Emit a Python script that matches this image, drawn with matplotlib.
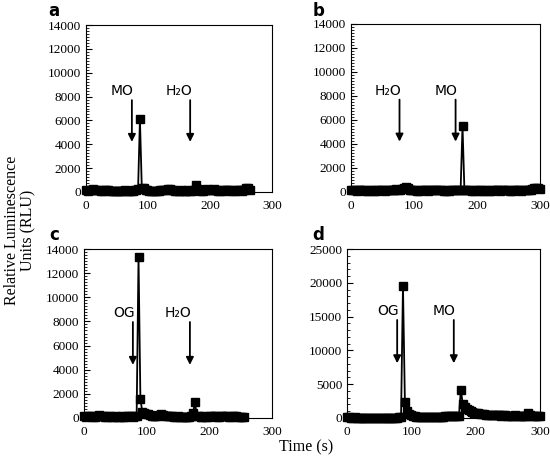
import numpy as np
import matplotlib
matplotlib.use("Agg")
import matplotlib.pyplot as plt
from matplotlib.ticker import MultipleLocator

# sampling times (s)
t_a = np.arange(0, 265, 3)
t_b = np.arange(0, 301, 3)
t_c = np.arange(0, 256, 3)
t_d = np.arange(0, 301, 3)

# luminescence (RLU)
rlu_a = [150, 120, 200, 180, 250, 200, 150, 180, 120, 100,
         150, 130, 160, 100, 120, 90, 110, 80, 100, 120,
         90, 140, 110, 80, 120, 100, 150, 200, 250, 6100,
         350, 300, 200, 150, 120, 100, 90, 110, 80, 100,
         130, 150, 200, 180, 220, 250, 180, 150, 120, 100,
         90, 130, 100, 80, 120, 150, 100, 120, 200, 600,
         250, 150, 120, 100, 200, 250, 180, 150, 200, 250,
         150, 120, 100, 150, 180, 100, 130, 200, 150, 100,
         120, 180, 150, 200, 120, 150, 350, 300, 200]
rlu_b = [200, 150, 180, 120, 150, 200, 180, 150, 120, 100,
         130, 150, 120, 100, 150, 200, 180, 150, 120, 150,
         200, 180, 150, 200, 250, 180, 200, 220, 350, 400,
         300, 200, 150, 180, 150, 120, 100, 150, 200, 180,
         150, 120, 150, 200, 180, 150, 200, 180, 150, 120,
         100, 150, 120, 150, 180, 200, 150, 180, 200, 5500,
         200, 150, 180, 150, 120, 100, 150, 180, 150, 120,
         100, 130, 150, 120, 100, 150, 180, 200, 150, 120,
         150, 200, 180, 150, 120, 100, 150, 200, 180, 150,
         120, 150, 180, 200, 150, 180, 250, 300, 350, 300,
         250]
rlu_c = [150, 120, 200, 180, 150, 100, 120, 200, 250, 200,
         150, 120, 100, 150, 130, 100, 120, 150, 100, 120,
         150, 120, 100, 150, 200, 150, 120, 150, 200, 13300,
         1600, 500, 450, 350, 300, 250, 200, 180, 150, 200,
         250, 300, 250, 200, 150, 180, 200, 150, 120, 100,
         150, 120, 100, 80, 120, 100, 80, 150, 400, 1300,
         200, 150, 120, 100, 150, 120, 100, 150, 200, 180,
         150, 120, 100, 150, 200, 180, 150, 120, 100, 150,
         180, 150, 120, 100, 80, 60]
rlu_d = [100, 80, 60, 50, 80, 60, 50, 40, 60, 50,
         40, 50, 60, 50, 40, 50, 60, 50, 40, 50,
         60, 50, 40, 50, 60, 50, 60, 80, 100, 19600,
         2400, 1000, 600, 400, 300, 250, 200, 180, 150, 120,
         100, 120, 150, 100, 120, 100, 150, 120, 100, 150,
         200, 250, 300, 350, 300, 250, 300, 250, 300, 4200,
         2000, 1700, 1400, 1200, 1000, 900, 800, 750, 700, 650,
         600, 550, 500, 480, 450, 420, 400, 450, 400, 380,
         350, 380, 400, 350, 320, 300, 350, 400, 320, 300,
         280, 300, 350, 300, 700, 400, 300, 280, 300, 350,
         300]

# injection labels and arrow x positions
labels_a = ["MO", "H\u2082O"]
labels_b = ["H\u2082O", "MO"]
labels_c = ["OG", "H\u2082O"]
labels_d = ["OG", "MO"]
arrow_x_a = [74, 168]
arrow_x_b = [77, 166]
arrow_x_c = [78, 169]
arrow_x_d = [78, 166]

W, H = 550, 463
fig = plt.figure(figsize=(W / 100, H / 100), dpi=100)

serif = "Liberation Serif"
sans = "DejaVu Sans"


def px_axes(l, t, r, b):
    return fig.add_axes([l / W, 1 - b / H, (r - l) / W, (b - t) / H])


panels = [
    # box, t, y, ymax, major, minor, labels, arrows, arrow top, arrow tip, letter
    ((86, 25, 272, 192), t_a, rlu_a, 14000, 2000, 250, labels_a, arrow_x_a, 7700, 4200, "a", (54, 11)),
    ((351, 24, 540, 192), t_b, rlu_b, 14000, 2000, 250, labels_b, arrow_x_b, 7700, 4200, "b", (319, 11)),
    ((84, 249, 272, 418), t_c, rlu_c, 14000, 2000, 250, labels_c, arrow_x_c, 7950, 4400, "c", (54, 235)),
    ((347, 249, 540, 418), t_d, rlu_d, 25000, 5000, 1000, labels_d, arrow_x_d, 14500, 8100, "d", (318, 235)),
]

for box, t, y, ymax, major, minor, labs, axs, top, tip, letter, lpos in panels:
    ax = px_axes(*box)
    ax.plot(t, y, color="black", lw=1.3, marker="s", markersize=6,
            clip_on=False, zorder=3)
    ax.set_xlim(0, 300)
    ax.set_ylim(0, ymax)
    ax.xaxis.set_major_locator(MultipleLocator(100))
    ax.yaxis.set_major_locator(MultipleLocator(major))
    ax.yaxis.set_minor_locator(MultipleLocator(minor))
    ax.tick_params(axis="y", which="major", direction="in", length=4, width=0.8)
    ax.tick_params(axis="y", which="minor", direction="in", length=2.5, width=0.6)
    ax.tick_params(axis="x", length=0, pad=6)
    for lab in ax.get_xticklabels() + ax.get_yticklabels():
        lab.set_fontfamily(serif)
        lab.set_fontsize(9.5)
    for sp in ax.spines.values():
        sp.set_linewidth(0.8)
    for txt, x in zip(labs, axs):
        ax.annotate("", xy=(x, tip), xytext=(x, top),
                    arrowprops=dict(arrowstyle="-|>", color="black", lw=1.3,
                                    mutation_scale=11, shrinkA=0, shrinkB=0))
        ax.text(x + 3, top + ymax * 0.01, txt, ha="right", va="bottom",
                fontsize=10, family=sans)
    fig.text(lpos[0] / W, 1 - lpos[1] / H, letter, fontsize=12,
             fontweight="bold", family=sans, ha="center", va="center")

fig.text(20 / W, 1 - 230 / H, "Relative Luminescence\nUnits (RLU)",
         rotation=90, ha="center", va="center", fontsize=11.5,
         family=serif, linespacing=1.0)
fig.text(306 / W, 1 - 447 / H, "Time (s)", ha="center", va="center",
         fontsize=11.5, family=serif)

fig.savefig("out.png", dpi=100)
